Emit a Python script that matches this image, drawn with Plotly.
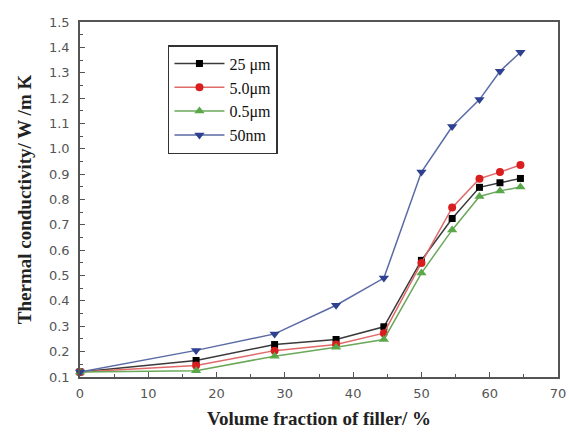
import plotly.graph_objects as go

# Data
x_vals = [0, 17, 28.5, 37.5, 44.5, 50, 54.5, 58.5, 61.5, 64.5]
y_25um = [0.12, 0.165, 0.228, 0.248, 0.298, 0.56, 0.725, 0.848, 0.866, 0.883]
y_5um = [0.12, 0.145, 0.204, 0.228, 0.273, 0.55, 0.768, 0.882, 0.908, 0.936]
y_05um = [0.12, 0.125, 0.182, 0.217, 0.248, 0.51, 0.68, 0.812, 0.834, 0.849]
y_50nm = [0.12, 0.205, 0.27, 0.383, 0.49, 0.908, 1.088, 1.194, 1.306, 1.381]

series_names = ["25 μm", "5.0μm", "0.5μm", "50nm"]
x_ticks = [0, 10, 20, 30, 40, 50, 60, 70]
y_ticks = [0.1, 0.2, 0.3, 0.4, 0.5, 0.6, 0.7, 0.8, 0.9, 1.0, 1.1, 1.2, 1.3, 1.4, 1.5]

styles = [
    dict(line_color="#3a3a3a", marker_color="#000000", symbol="square", size=7),
    dict(line_color="#e06a6a", marker_color="#d81e1e", symbol="circle", size=8),
    dict(line_color="#6aa85a", marker_color="#5aa84a", symbol="triangle-up", size=9),
    dict(line_color="#5a6aa5", marker_color="#2d4190", symbol="triangle-down", size=9),
]

fig = go.Figure()
for name, ys, st in zip(series_names, [y_25um, y_5um, y_05um, y_50nm], styles):
    fig.add_trace(go.Scatter(
        x=x_vals, y=ys, name=name, mode="lines+markers",
        line=dict(color=st["line_color"], width=1.5),
        marker=dict(color=st["marker_color"], symbol=st["symbol"], size=st["size"]),
        cliponaxis=False,
    ))

axis_common = dict(
    showline=True, linecolor="#555555", linewidth=1.5, mirror=True,
    ticks="inside", ticklen=5, tickwidth=1.2, tickcolor="#555555",
    showgrid=False, zeroline=False, automargin=False,
    tickfont=dict(family="DejaVu Sans", size=13, color="#555555"),
)

fig.update_xaxes(
    range=[0, 70], tickvals=x_ticks, ticktext=[str(t) for t in x_ticks],
    minor=dict(dtick=5, ticks="inside", ticklen=3, tickcolor="#555555"),
    ticklabelstandoff=4, ticklabeloverflow="allow",
    title=dict(text="<b>Volume fraction of filler/ %</b>",
               font=dict(family="Liberation Serif", size=19, color="#222222"), standoff=11),
    **axis_common,
)
fig.update_yaxes(
    range=[0.1, 1.5], tickvals=y_ticks, ticktext=[f"{t:.1f}" for t in y_ticks],
    minor=dict(dtick=0.05, ticks="inside", ticklen=3, tickcolor="#555555"),
    ticklabelstandoff=6,
    title=dict(text="<b>Thermal conductivity/ W /m K</b>",
               font=dict(family="Liberation Serif", size=19, color="#222222"), standoff=12),
    **axis_common,
)

fig.update_layout(
    width=569, height=433,
    margin=dict(l=80, r=11, t=22, b=56, autoexpand=False),
    paper_bgcolor="white", plot_bgcolor="white",
    showlegend=True,
    legend=dict(
        x=0.184, y=0.935, xanchor="left", yanchor="top",
        bordercolor="#333333", borderwidth=1.5, bgcolor="white",
        font=dict(family="Liberation Serif", size=16, color="#111111"),
        itemwidth=50, tracegroupgap=0,
    ),
)

fig.write_html("out.html")
